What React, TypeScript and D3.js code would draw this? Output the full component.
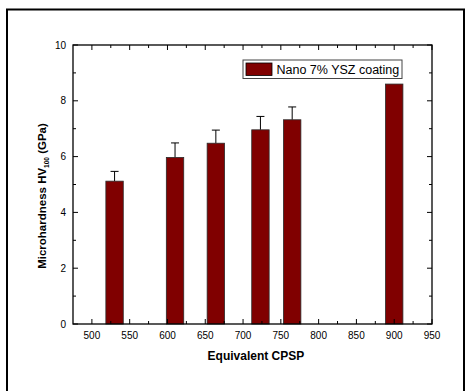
import { useEffect, useRef } from 'react';
import * as d3 from 'd3';

// values
const cpsp = [530, 610, 664, 723, 765, 900];
const hardness = [5.12, 5.97, 6.48, 6.96, 7.32, 8.6];
const errUp = [0.35, 0.52, 0.47, 0.48, 0.46, 0];
const xTicks = [500, 550, 600, 650, 700, 750, 800, 850, 900, 950];
const yTicks = [0, 2, 4, 6, 8, 10];
const legendLabel = 'Nano 7% YSZ coating';

const App = () => {
  const svgRef = useRef<SVGSVGElement | null>(null);

  useEffect(() => {
    const root = d3.select(svgRef.current);
    root.selectAll('*').remove();

    const W = 465;
    const H = 391;
    const m = { top: 45, right: 33, bottom: 67, left: 73 };
    const w = W - m.left - m.right;
    const h = H - m.top - m.bottom;
    const font = '"Liberation Sans", Arial, sans-serif';

    root.attr('width', W).attr('height', H).style('font-family', font);

    // outer frame
    root.append('rect')
      .attr('x', 7).attr('y', 9.5)
      .attr('width', 457).attr('height', 400)
      .attr('fill', 'white').attr('stroke', '#000').attr('stroke-width', 2);

    const g = root.append('g').attr('transform', `translate(${m.left},${m.top})`);

    const x = d3.scaleLinear().domain([475, 950]).range([0, w]);
    const y = d3.scaleLinear().domain([0, 10]).range([h, 0]);

    const barW = 17.4;
    const data = cpsp.map((c, i) => ({ c, v: hardness[i], e: errUp[i] }));

    // error bars (upper only)
    const eb = g.selectAll('.err').data(data.filter(d => d.e > 0)).enter().append('g');
    eb.append('line')
      .attr('x1', d => x(d.c)).attr('x2', d => x(d.c))
      .attr('y1', d => y(d.v)).attr('y2', d => y(d.v + d.e))
      .attr('stroke', '#000').attr('stroke-width', 1);
    eb.append('line')
      .attr('x1', d => x(d.c) - 4).attr('x2', d => x(d.c) + 4)
      .attr('y1', d => y(d.v + d.e)).attr('y2', d => y(d.v + d.e))
      .attr('stroke', '#000').attr('stroke-width', 1);

    // bars
    g.selectAll('.bar').data(data).enter().append('rect')
      .attr('x', d => x(d.c) - barW / 2)
      .attr('y', d => y(d.v))
      .attr('width', barW)
      .attr('height', d => h - y(d.v))
      .attr('fill', '#800000')
      .attr('stroke', '#2a2a2a')
      .attr('stroke-width', 0.8);

    // axes with inward ticks, mirrored on top/right
    const xMinor = d3.range(525, 950, 50);
    const yMinor = d3.range(1, 10, 2);
    const tickStroke = '#000';

    const addTicksX = (y0: number, dir: number) => {
      xTicks.forEach(t => g.append('line')
        .attr('x1', x(t)).attr('x2', x(t)).attr('y1', y0).attr('y2', y0 + dir * 5)
        .attr('stroke', tickStroke).attr('stroke-width', 1));
      xMinor.forEach(t => g.append('line')
        .attr('x1', x(t)).attr('x2', x(t)).attr('y1', y0).attr('y2', y0 + dir * 3)
        .attr('stroke', tickStroke).attr('stroke-width', 1));
    };
    const addTicksY = (x0: number, dir: number) => {
      yTicks.forEach(t => g.append('line')
        .attr('x1', x0).attr('x2', x0 + dir * 5).attr('y1', y(t)).attr('y2', y(t))
        .attr('stroke', tickStroke).attr('stroke-width', 1));
      yMinor.forEach(t => g.append('line')
        .attr('x1', x0).attr('x2', x0 + dir * 3).attr('y1', y(t)).attr('y2', y(t))
        .attr('stroke', tickStroke).attr('stroke-width', 1));
    };
    addTicksX(h, -1);
    addTicksX(0, 1);
    addTicksY(0, 1);
    addTicksY(w, -1);

    g.append('rect')
      .attr('x', 0).attr('y', 0).attr('width', w).attr('height', h)
      .attr('fill', 'none').attr('stroke', '#000').attr('stroke-width', 1.3);

    // tick labels
    g.selectAll('.xl').data(xTicks).enter().append('text')
      .attr('x', d => x(d)).attr('y', h + 15)
      .attr('text-anchor', 'middle')
      .style('font-size', '10px')
      .text(d => d);
    g.selectAll('.yl').data(yTicks).enter().append('text')
      .attr('x', -7).attr('y', d => y(d) + 3.5)
      .attr('text-anchor', 'end')
      .style('font-size', '10px')
      .text(d => d);

    // axis titles
    g.append('text')
      .attr('x', (x(500) + x(950)) / 2 - 6).attr('y', h + 35.5)
      .attr('text-anchor', 'middle')
      .style('font-size', '12px').style('font-weight', 'bold')
      .text('Equivalent CPSP');

    const yt = g.append('text')
      .attr('transform', `translate(${-27.5},${151}) rotate(-90)`)
      .attr('text-anchor', 'middle')
      .style('font-size', '11.5px').style('font-weight', 'bold');
    yt.append('tspan').text('Microhardness HV');
    yt.append('tspan').attr('dy', 3).style('font-size', '6.5px').text('100');
    yt.append('tspan').attr('dy', -3).text(' (GPa)');

    // legend
    const lg = g.append('g').attr('transform', `translate(${243 - m.left},${60 - m.top})`);
    lg.append('rect')
      .attr('x', 0).attr('y', 0).attr('width', 159).attr('height', 18.5)
      .attr('fill', 'white').attr('stroke', '#444').attr('stroke-width', 1);
    lg.append('rect')
      .attr('x', 3).attr('y', 3).attr('width', 26).attr('height', 12.5)
      .attr('fill', '#800000').attr('stroke', '#000').attr('stroke-width', 0.8);
    lg.append('text')
      .attr('x', 33.5).attr('y', 13.8)
      .style('font-size', '12.5px')
      .text(legendLabel);
  }, []);

  return (
    <div style={{ position: 'absolute', left: 0, top: 0 }}>
      <svg ref={svgRef}></svg>
    </div>
  );
};

export default App;
